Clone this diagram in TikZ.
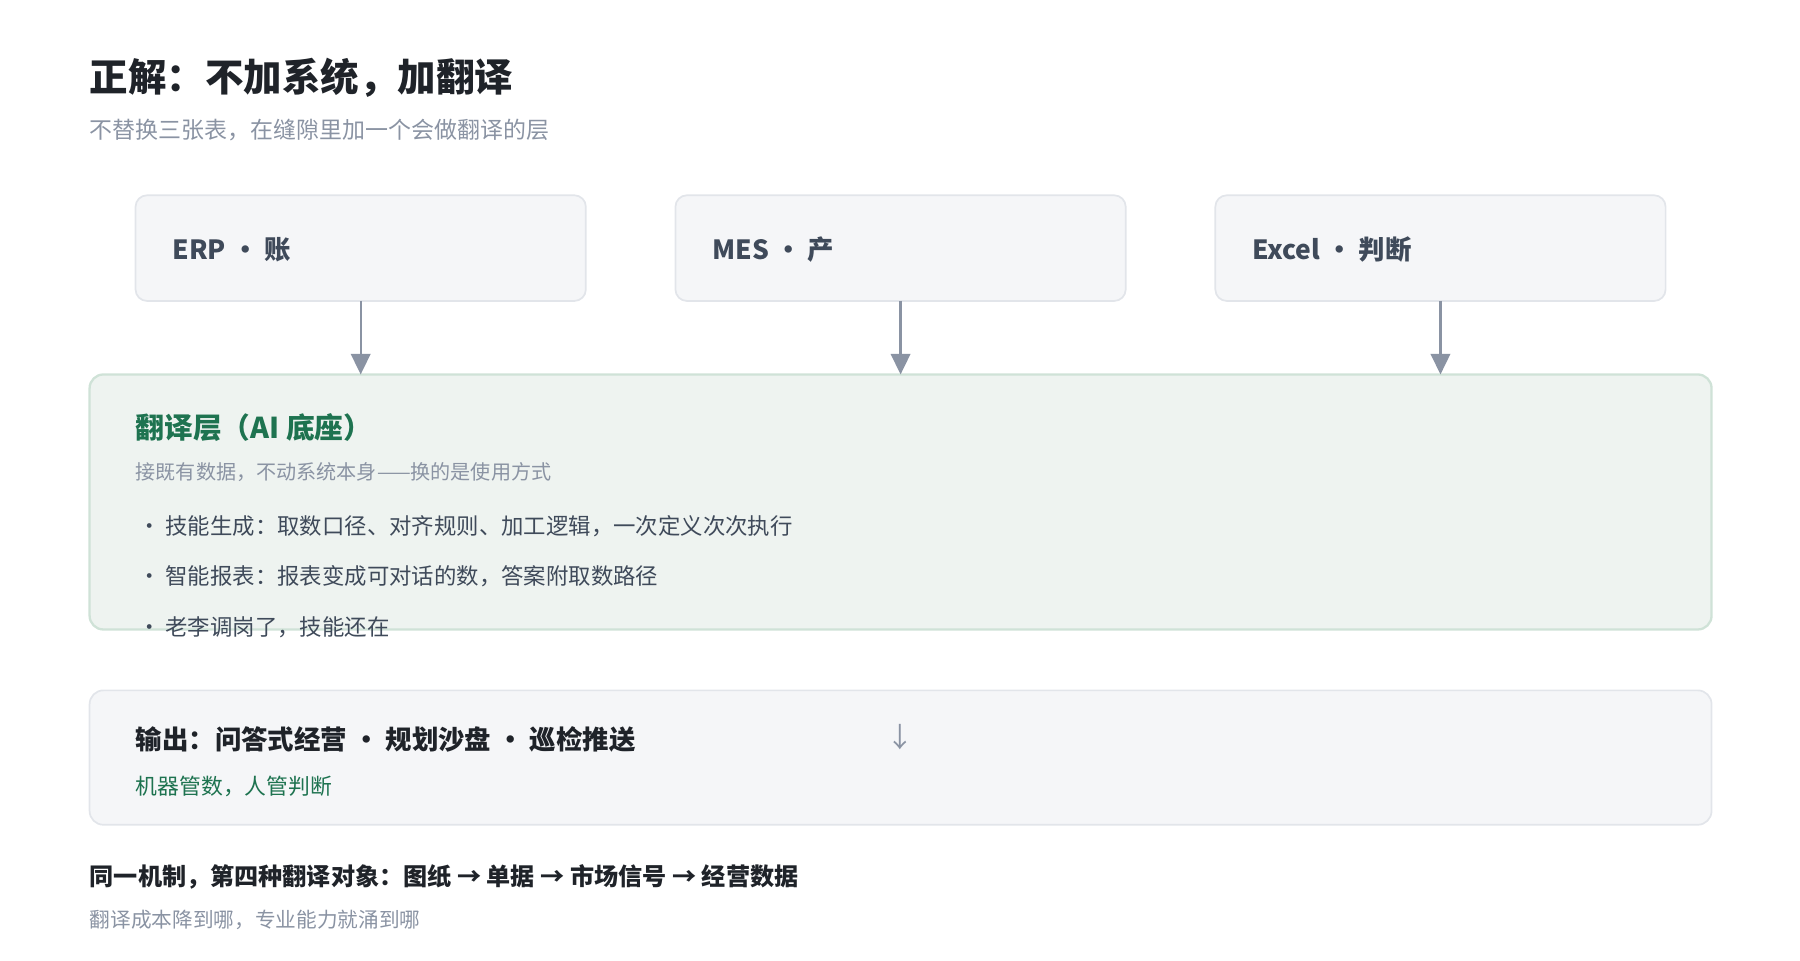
\documentclass[tikz,border=0pt]{standalone}
\usepackage{fontspec}
\setmainfont{Noto Sans CJK SC}
\usetikzlibrary{arrows.meta}
\definecolor{boxfill}{HTML}{F5F6F8}
\definecolor{boxline}{HTML}{E2E5EA}
\definecolor{dark}{HTML}{1F2329}
\definecolor{slate}{HTML}{3F4A5A}
\definecolor{mute}{HTML}{8A93A3}
\definecolor{gfill}{HTML}{EEF3F0}
\definecolor{gline}{HTML}{CFE2D7}
\definecolor{green}{HTML}{1E7350}
\begin{document}
\begin{tikzpicture}[x=1pt,y=-1pt,
 src/.style={draw=boxline,fill=boxfill,line width=1.5pt,rounded corners=10pt},
 lbl/.style={anchor=west,inner sep=0pt,font=\fontsize{23}{27}\selectfont\bfseries,text=slate},
 arr/.style={draw=mute,line width=2pt,-{Triangle[length=18pt,width=17pt]}},
 bul/.style={anchor=west,inner sep=0pt,font=\fontsize{19.5}{23}\selectfont,text=slate}]
\useasboundingbox (0,0) rectangle (1567,836);
\node[anchor=west,inner sep=0pt,font=\fontsize{33.5}{40}\selectfont\bfseries,text=dark] (title) at (78,68) {正解：不加系统，加翻译};
\node[anchor=west,inner sep=0pt,font=\fontsize{20}{24}\selectfont,text=mute] (sub) at (78,113) {不替换三张表，在缝隙里加一个会做翻译的层};
\foreach \n/\x/\t in {erp/118/{ERP · 账},mes/588/{MES · 产},xl/1058/{Excel · 判断}}{
 \draw[src] (\x,170) rectangle (\x+392,262);
 \coordinate (\n) at (\x+196,262);
 \node[lbl] (\n t) at (\x+32,217) {\t};
}
\draw[draw=gline,fill=gfill,line width=2pt,rounded corners=12pt] (78,326) rectangle (1490,548);
\coordinate (g1) at (314,326);\coordinate (g2) at (784,326);\coordinate (g3) at (1254,326);
\draw[arr] (erp) -- (g1);
\draw[arr] (mes) -- (g2);
\draw[arr] (xl) -- (g3);
\node[anchor=west,inner sep=0pt,font=\fontsize{25}{29}\selectfont\bfseries,text=green] (gt) at (118,372) {翻译层（AI 底座）};
\node[anchor=west,inner sep=0pt,font=\fontsize{17.5}{21}\selectfont,text=mute] (gs) at (118,411) {接既有数据，不动系统本身——换的是使用方式};
\node[bul] (b1) at (120,458) {· 技能生成：取数口径、对齐规则、加工逻辑，一次定义次次执行};
\node[bul] (b2) at (120,502) {· 智能报表：报表变成可对话的数，答案附取数路径};
\node[bul] (b3) at (120,546) {· 老李调岗了，技能还在};
\draw[draw=boxline,fill=boxfill,line width=1.5pt,rounded corners=12pt] (78,601) rectangle (1490,718);
\node[lbl,text=dark] (out) at (118,644) {输出：问答式经营 · 规划沙盘 · 巡检推送};
\node[inner sep=0pt,font=\fontsize{24}{28}\selectfont,text=mute] (down) at (784,642) {↓};
\node[anchor=west,inner sep=0pt,font=\fontsize{19}{23}\selectfont,text=green] (os) at (118,685) {机器管数，人管判断};
\node[anchor=west,inner sep=0pt,font=\fontsize{21}{25}\selectfont\bfseries,text=dark] (f1) at (78,763) {同一机制，第四种翻译对象：图纸 → 单据 → 市场信号 → 经营数据};
\node[anchor=west,inner sep=0pt,font=\fontsize{18}{21}\selectfont,text=mute] (f2) at (78,801) {翻译成本降到哪，专业能力就涌到哪};
\end{tikzpicture}
\end{document}
